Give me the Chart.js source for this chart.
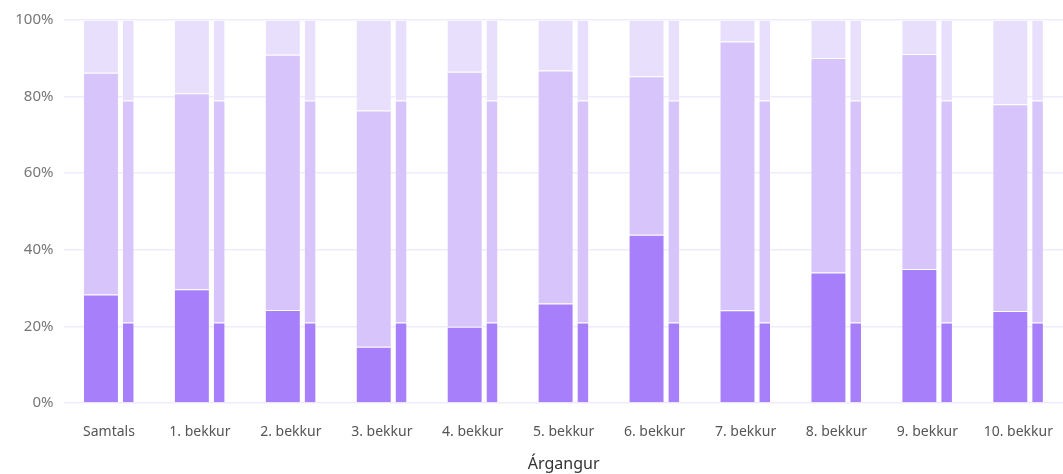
<!DOCTYPE html>
<html>
<head>
<meta charset="utf-8">
<script src="https://cdn.jsdelivr.net/npm/chart.js@4.4.1/dist/chart.umd.min.js"></script>
<style>
  html, body { margin: 0; padding: 0; background: #fff; overflow: hidden; }
  #wrap { width: 1066px; height: 474px; }
</style>
</head>
<body>
<div id="wrap"><canvas id="chart"></canvas></div>
<script>
// categories
const labels = ['Samtals', '1. bekkur', '2. bekkur', '3. bekkur', '4. bekkur', '5. bekkur',
  '6. bekkur', '7. bekkur', '8. bekkur', '9. bekkur', '10. bekkur'];

// school values (%)
const schoolLow  = [28.3, 29.7, 24.3, 14.7, 19.9, 26.0, 43.9, 24.2, 34.1, 35.0, 24.0];
const schoolMid  = [57.9, 51.2, 66.6, 61.7, 66.6, 60.8, 41.4, 70.2, 56.0, 56.1, 54.0];
const schoolHigh = [13.8, 19.1,  9.1, 23.6, 13.5, 13.2, 14.7,  5.6,  9.9,  8.9, 22.0];

// comparison values (%)
const compLow  = [21, 21, 21, 21, 21, 21, 21, 21, 21, 21, 21];
const compMid  = [58, 58, 58, 58, 58, 58, 58, 58, 58, 58, 58];
const compHigh = [21, 21, 21, 21, 21, 21, 21, 21, 21, 21, 21];

const yTicks = [0, 20, 40, 60, 80, 100];

const dark = '#a87ffa';
const mid = '#d7c4fb';
const light = '#e8dffd';
const edge = 'rgba(255,255,255,0.25)';

function wide(data, color) {
  return { data: data, backgroundColor: color, borderColor: edge, borderWidth: 1,
    stack: 'school', categoryPercentage: 0.3535, barPercentage: 2.236 };
}
function narrow(data, color) {
  return { data: data, backgroundColor: color, borderColor: edge, borderWidth: 1,
    stack: 'comp', categoryPercentage: 0.847, barPercentage: 0.324 };
}

new Chart(document.getElementById('chart'), {
  type: 'bar',
  data: {
    labels: labels,
    datasets: [
      wide(schoolLow, dark),
      wide(schoolMid, mid),
      wide(schoolHigh, light),
      narrow(compLow, dark),
      narrow(compMid, mid),
      narrow(compHigh, light)
    ]
  },
  options: {
    responsive: true,
    maintainAspectRatio: false,
    animation: false,
    layout: { padding: { top: 20, bottom: 0, left: 0, right: 0 } },
    plugins: { legend: { display: false }, tooltip: { enabled: false } },
    scales: {
      x: {
        stacked: true,
        grid: { display: false },
        border: { display: false },
        ticks: { color: '#555', font: { family: 'Noto Sans', size: 14 }, padding: 13, maxRotation: 0, autoSkip: false },
        title: { display: true, text: 'Árgangur', color: '#333', font: { family: 'Noto Sans', size: 16 }, padding: { top: 1, bottom: 0 } }
      },
      y: {
        stacked: true,
        min: 0,
        max: 100,
        afterFit: function(scale) { scale.width = 63.5; },
        afterBuildTicks: function(scale) { scale.ticks = yTicks.map(v => ({ value: v })); },
        grid: { color: '#efebfd', lineWidth: 1.5, drawTicks: false },
        border: { display: false },
        ticks: {
          color: '#777',
          font: { family: 'Noto Sans', size: 15 },
          padding: 10,
          callback: v => v + '%'
        }
      }
    }
  }
});
</script>
</body>
</html>
